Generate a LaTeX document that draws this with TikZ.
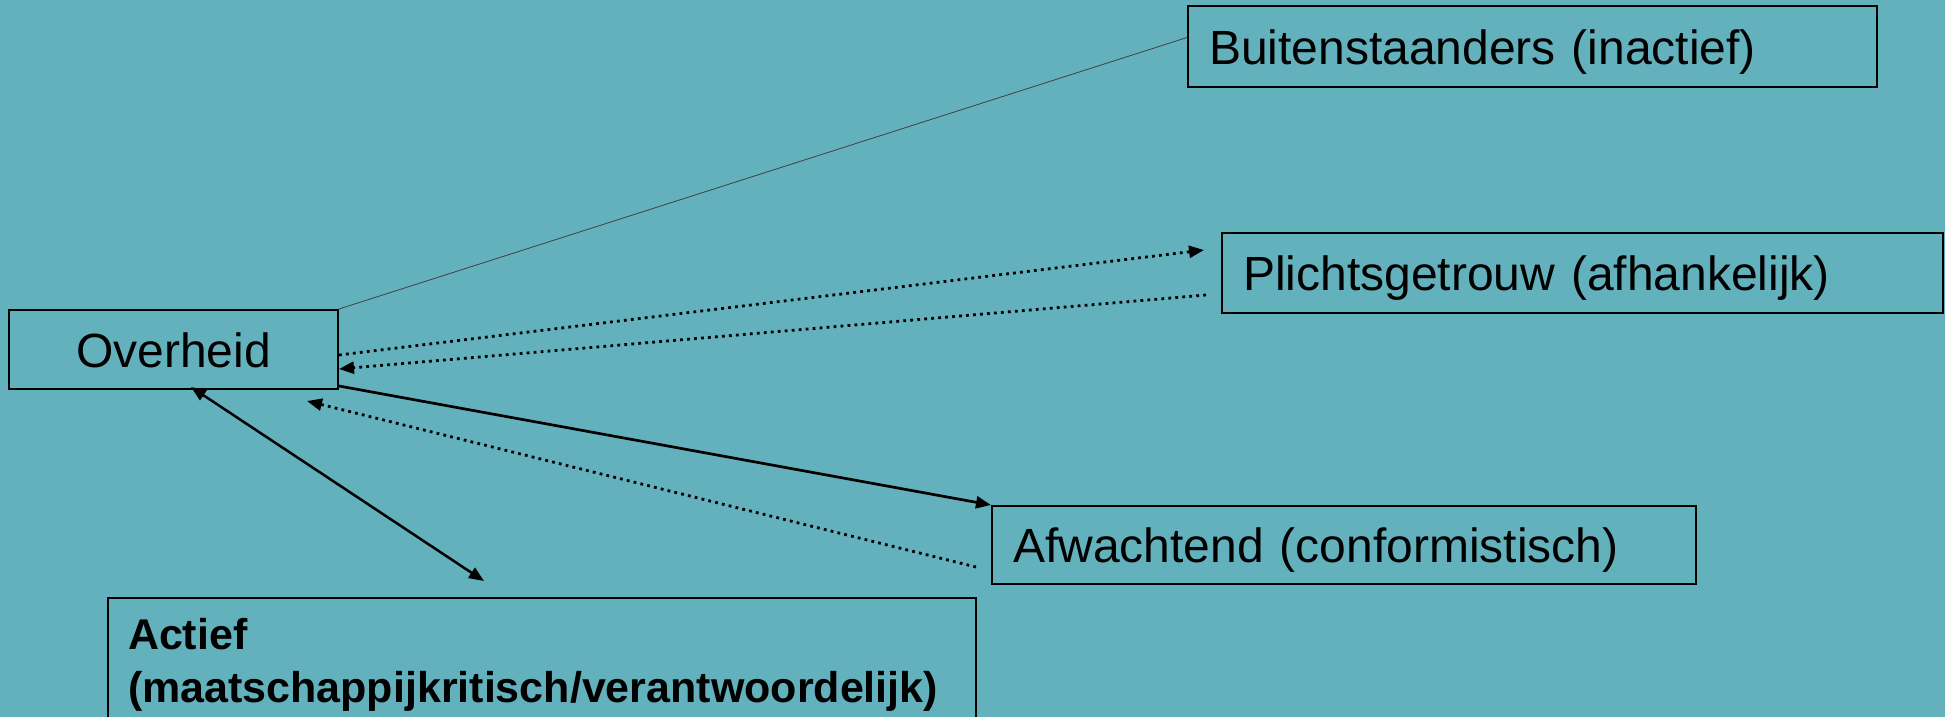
\documentclass[tikz,border=0pt]{standalone}
\usepackage{fontspec}
\setmainfont{Liberation Sans}
\usepackage{xcolor}
\usetikzlibrary{arrows, arrows.meta}
\definecolor{bgteal}{RGB}{99,177,188}

\tikzset{
  box/.style={draw, line width=2pt, minimum height=80pt, inner xsep=21pt,
    text height=35pt, text depth=0pt, font=\fontsize{48pt}{57pt}\selectfont},
  lbox/.style={box, align=left},
  dotline/.style={line width=2.8pt, dash pattern=on 2.8pt off 4.2pt},
  tri/.style={-{Triangle[length=15pt,width=12pt]}}
}

\begin{document}
\begin{tikzpicture}[x=1pt, y=-1pt]
\useasboundingbox (0,0) rectangle (1945,717);
\fill[bgteal] (0,0) rectangle (1945,717);
%boxes
\node[box, minimum width=329pt, minimum height=79pt] (over) at (173.5,349.5) {Overheid};
\node[lbox, text width=647pt, minimum height=81pt] (buiten) at (1532.5,46.5) {Buitenstaanders (inactief)};
\node[lbox, text width=679pt] (plicht) at (1582.5,273) {Plichtsgetrouw (afhankelijk)};
\node[lbox, text width=662pt, minimum height=78pt] (afw) at (1344,545) {Afwachtend (conformistisch)};
\node[draw, line width=2pt, anchor=north west, align=left, text width=828pt,
  inner xsep=20pt, inner ysep=20pt, font=\fontsize{43pt}{53pt}\selectfont\bfseries]
  (actief) at (107,597) {Actief\\(maatschappijkritisch/verantwoordelijk)};
%connectors
\draw[line width=0.8pt, black!75] (over.north east) -- ([yshift=9pt]buiten.west);
\draw[dotline, tri] ([yshift=-5.5pt]over.east) -- ([xshift=-17pt, yshift=23pt]plicht.west);
\draw[dotline, tri] ([xshift=-15pt, yshift=-22pt]plicht.west) -- ([yshift=-19.5pt]over.east);
\draw[line width=2.7pt, tri] ([yshift=4pt]over.south east) -- (afw.north west);
\draw[dotline, tri] ([xshift=-15pt, yshift=-22pt]afw.west) -- ([xshift=-32pt, yshift=-11pt]over.south east);
\draw[line width=2.5pt, {Triangle[length=15pt,width=12pt]}-{Triangle[length=15pt,width=12pt]}]
  ([xshift=17.5pt, yshift=3pt]over.south) -- ([xshift=-58pt, yshift=16pt]actief.north);
\end{tikzpicture}
\end{document}
